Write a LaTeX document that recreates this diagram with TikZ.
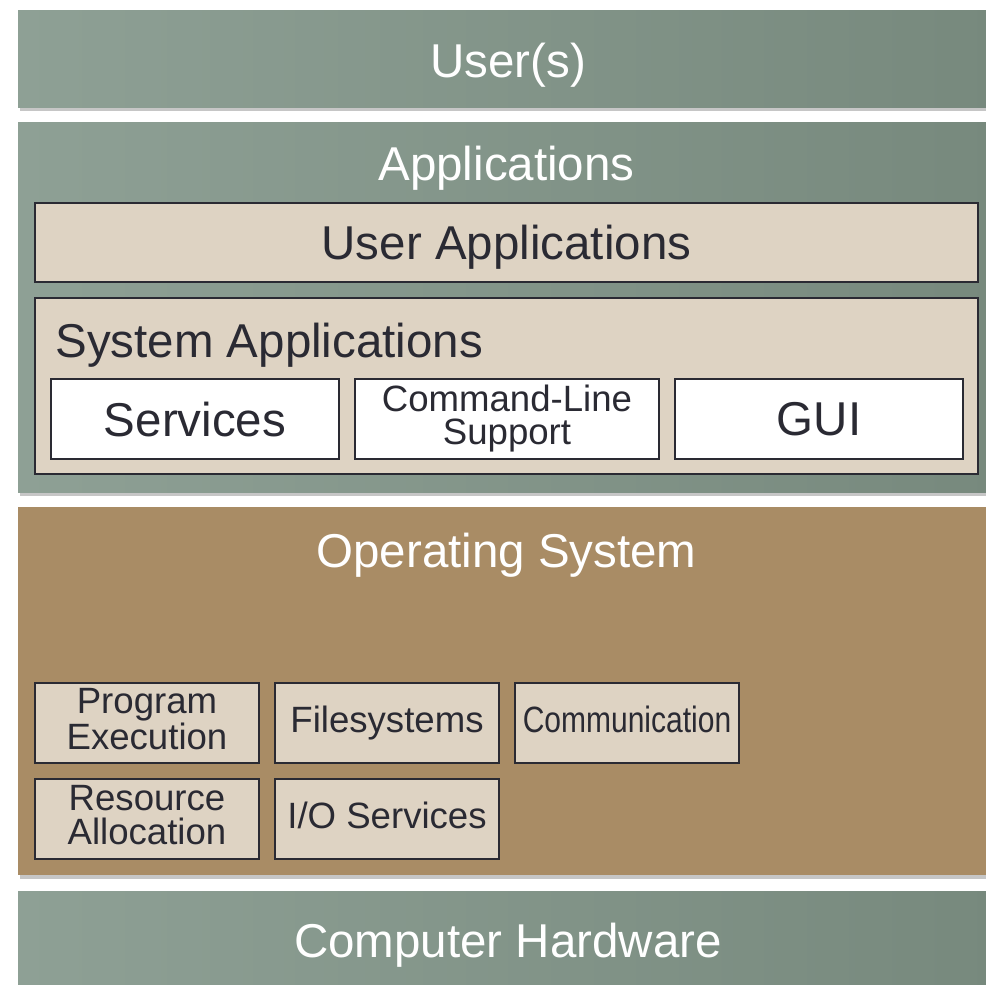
\documentclass[tikz,border=0pt]{standalone}
\usepackage{fontspec}
\setmainfont{Liberation Sans}
\usepackage{graphicx}
\usetikzlibrary{shadows}

\definecolor{bandlight}{RGB}{142,160,149}
\definecolor{banddark}{RGB}{119,137,125}
\definecolor{osbrown}{RGB}{169,140,101}
\definecolor{boxtan}{RGB}{222,211,195}
\definecolor{boxedge}{RGB}{42,42,51}
\newcommand{\bigtext}{\fontsize{23.75}{28}\selectfont}
\newcommand{\smalltext}{\fontsize{18.3}{16.6}\selectfont}

\begin{document}
\begin{tikzpicture}[x=0.5pt,y=-0.5pt,
		layer/.style={rectangle,inner sep=0pt,minimum width=490pt,text=white,font=\bigtext,text depth=0pt,
			drop shadow={shadow xshift=0.8pt,shadow yshift=-1.8pt,opacity=0.45}},
		band/.style={layer,left color=bandlight,right color=banddark},
		panel/.style={draw=boxedge,line width=1pt,fill=boxtan,text=boxedge,inner sep=0pt},
		tool/.style={panel,fill=white,minimum width=144pt,minimum height=40pt,font=\bigtext,text depth=0pt},
		part/.style={panel,minimum width=112pt,minimum height=40pt,align=center,font=\smalltext,text depth=4pt}]
			\useasboundingbox (0,0) rectangle (986,985);
		
			\node[band,minimum height=48.5pt] (users) at (508,58.5) {\raisebox{-2pt}{User(s)}};
			\node[band,minimum height=185pt] (apps) at (508,307) {};
			\node[layer,fill=osbrown,minimum height=184pt] (os) at (508,691) {};
			\node[band,minimum height=47pt] (hw) at (508,938.5) {\raisebox{-2pt}{Computer Hardware}};
		
			\node[white,font=\bigtext,anchor=base] (appslabel) at (506.5,180) {Applications};
			\node[panel,minimum width=471.5pt,minimum height=39.5pt,font=\bigtext,text depth=0pt] (userapps) at (506.5,242.5) {User Applications};
			\node[panel,minimum width=471.5pt,minimum height=88pt] (sysapps) at (506.5,386) {};
			\node[text=boxedge,font=\bigtext,anchor=base west,inner sep=0pt] (syslabel) at (55,357) {System Applications};
		
			\node[tool] (services) at (195,419) {Services};
			\node[tool,minimum width=152pt,align=center,font=\smalltext,text depth=4pt] (cmdline) at (507,419) {Command-Line\\Support};
			\node[tool] (gui) at (819,419) {GUI};
		
			\node[white,font=\bigtext,anchor=base] (oslabel) at (506.5,567) {Operating System};
		
			\node[part] (progexec) at (147,723) {Program\\Execution};
			\node[part] (filesys) at (387,723) {Filesystems};
			\node[part] (comm) at (627,723) {\scalebox{0.82}[1]{Communication}};
			\node[part] (resalloc) at (147,819) {Resource\\Allocation};
			\node[part] (ioserv) at (387,819) {I/O Services};
		\end{tikzpicture}
\end{document}
